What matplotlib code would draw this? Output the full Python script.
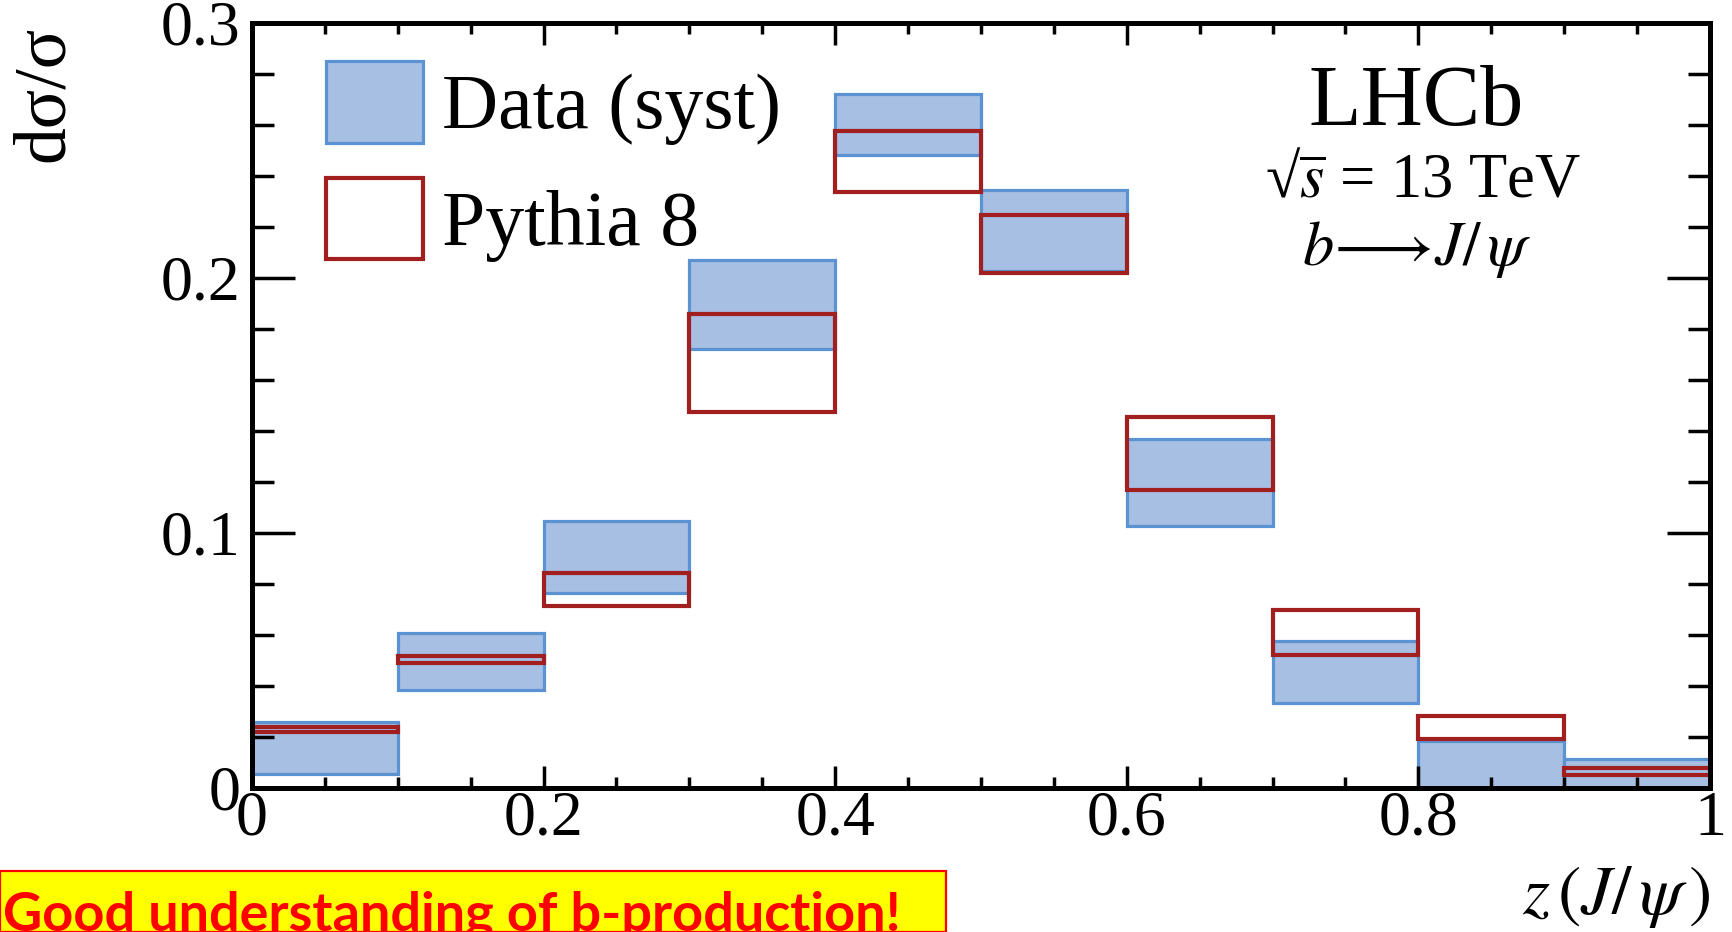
import matplotlib
matplotlib.use("Agg")
import matplotlib.pyplot as plt
from matplotlib.patches import Patch, Rectangle
from matplotlib.ticker import MultipleLocator, FuncFormatter

plt.rcParams["font.family"] = ["Liberation Serif", "DejaVu Serif"]
plt.rcParams["mathtext.fontset"] = "stix"

# z(J/psi) bins and normalised cross-section bands
bin_lo = [0.0, 0.1, 0.2, 0.3, 0.4, 0.5, 0.6, 0.7, 0.8, 0.9]
bin_width = 0.1
data_lo = [0.0053, 0.0383, 0.0762, 0.1719, 0.2481, 0.2025, 0.1028, 0.0333, 0.0, 0.0]
data_hi = [0.0259, 0.0608, 0.1045, 0.2069, 0.2720, 0.2344, 0.1368, 0.0575, 0.0185, 0.0111]
pythia_lo = [0.0220, 0.0488, 0.0713, 0.1472, 0.2337, 0.2020, 0.1168, 0.0520, 0.0190, 0.0049]
pythia_hi = [0.0240, 0.0518, 0.0843, 0.1856, 0.2577, 0.2246, 0.1455, 0.0697, 0.0281, 0.0076]

blue_fill = "#a6bfe3"
blue_edge = "#5a92d2"
red_edge = "#a11f1f"

fig = plt.figure(figsize=(17.33, 9.32), dpi=100)
ax = fig.add_axes([0.1454, 0.1548, 0.8413, 0.8208])

ax.bar(bin_lo, [h - l for h, l in zip(data_hi, data_lo)], bottom=data_lo,
       width=bin_width, align="edge", color=blue_fill, edgecolor=blue_edge,
       linewidth=2.3)
ax.bar(bin_lo, [h - l for h, l in zip(pythia_hi, pythia_lo)], bottom=pythia_lo,
       width=bin_width, align="edge", fill=False, edgecolor=red_edge,
       linewidth=3.0)

ax.set_xlim(0, 1)
ax.set_ylim(0, 0.3)
ax.xaxis.set_major_locator(MultipleLocator(0.2))
ax.xaxis.set_minor_locator(MultipleLocator(0.05))
ax.yaxis.set_major_locator(MultipleLocator(0.1))
ax.yaxis.set_minor_locator(MultipleLocator(0.02))
fmt = FuncFormatter(lambda v, p: "%g" % round(v, 3))
ax.xaxis.set_major_formatter(fmt)
ax.yaxis.set_major_formatter(fmt)

for s in ax.spines.values():
    s.set_linewidth(3.6)
ax.tick_params(which="both", direction="in", top=True, right=True,
               width=2.5, labelsize=46)
ax.tick_params(axis="x", which="major", length=16, pad=2)
ax.tick_params(axis="x", which="minor", length=8)
ax.tick_params(axis="y", which="major", length=31, pad=8)
ax.tick_params(axis="y", which="minor", length=16)

handles = [Patch(facecolor=blue_fill, edgecolor=blue_edge, linewidth=2.3),
           Patch(facecolor="white", edgecolor=red_edge, linewidth=3.0)]
ax.legend(handles, ["Data (syst)", "Pythia 8"], loc="upper left",
          bbox_to_anchor=(0.051, 0.95), frameon=False, fontsize=56,
          handlelength=1.24, handleheight=1.24, labelspacing=0.42,
          handletextpad=0.25, borderpad=0, borderaxespad=0)

fig.text(1416 / 1733, 1 - 125 / 932, "LHCb", fontsize=62,
         ha="center", va="baseline")
fig.text(1423 / 1733, 1 - 197 / 932, "\u221a" + r"$\overline{s}$ = 13 TeV",
         fontsize=45, ha="center", va="baseline")
fig.text(1417 / 1733, 1 - 265 / 932, r"$b\!\longrightarrow\! J/\,\psi$",
         fontsize=45, ha="center", va="baseline")

fig.text(1710 / 1733, 1 - 897 / 932, r"$z\,(J/\,\psi\,)$", fontsize=50,
         ha="right", va="center")
fig.text(45 / 1733, 1 - 26 / 932, "d\u03c3/\u03c3", fontsize=53,
         rotation=90, ha="center", va="top")

# highlighted remark at the bottom
fig.add_artist(Rectangle((0.0, 0.0), 946 / 1733, 61 / 932,
                         transform=fig.transFigure, facecolor="#ffff00",
                         edgecolor="#ff0000", linewidth=1.6, clip_on=False))
fig.text(3 / 1733, 2 / 932, "Good understanding of b-production!",
         fontsize=39, color="#ff0000", family="Lato", weight="bold",
         ha="left", va="baseline")

fig.savefig("out.png", dpi=100)
